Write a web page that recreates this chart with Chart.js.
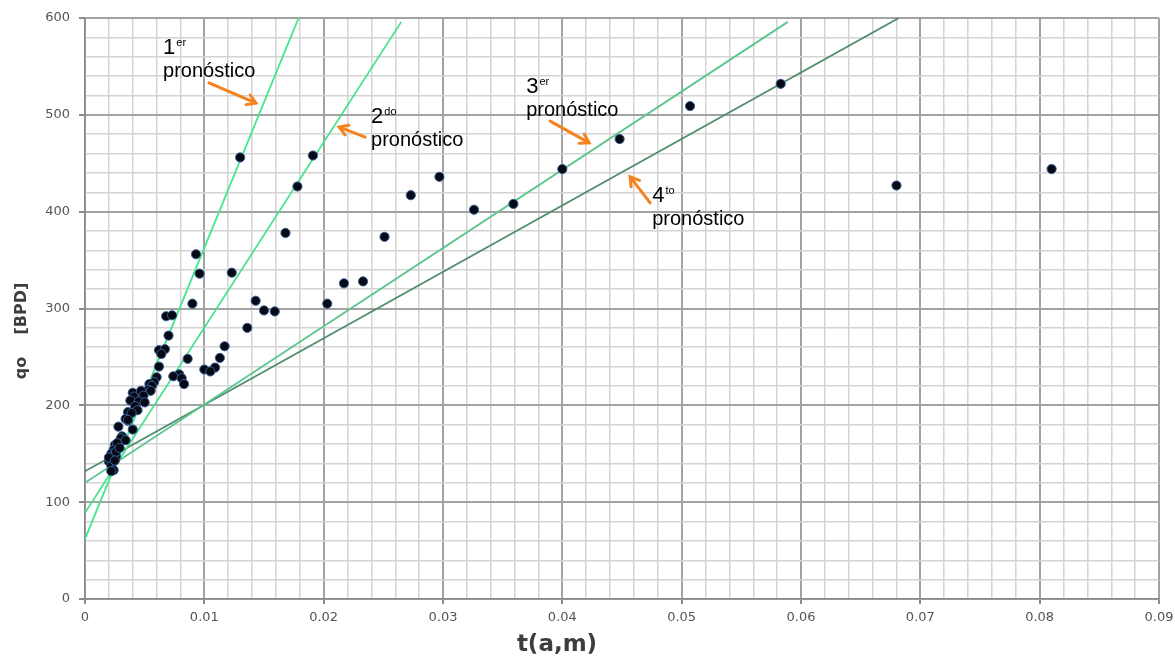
<!DOCTYPE html>
<html>
<head>
<meta charset="utf-8">
<script src="https://cdn.jsdelivr.net/npm/chart.js@4.4.0/dist/chart.umd.min.js"></script>
<style>
  html, body { margin: 0; padding: 0; background: #fff; }
  #wrap { width: 1175px; height: 658px; }
</style>
</head>
<body>
<div id="wrap"><canvas id="chart" width="1175" height="658"></canvas></div>
<script>
// Measured production points: t (a,m) vs qo [BPD]
const tValues = [
  0.0130, 0.0191, 0.0178, 0.0168, 0.0251, 0.0273, 0.0297, 0.0326, 0.0359, 0.0400,
  0.0448, 0.0507, 0.0583, 0.0680, 0.0810, 0.0203, 0.0217, 0.0233, 0.0143, 0.0150,
  0.0159, 0.0136, 0.0123, 0.0093, 0.0096, 0.0090, 0.0068, 0.0073, 0.0070, 0.0117,
  0.0113, 0.0086, 0.0109, 0.0100, 0.0105, 0.0062, 0.0067, 0.0064, 0.0062, 0.0079,
  0.0074, 0.0081, 0.0083, 0.0060, 0.0058, 0.0054, 0.0056, 0.0053, 0.0055, 0.0040,
  0.0047, 0.0049, 0.0041, 0.0038, 0.0045, 0.0050, 0.0042, 0.0044, 0.0036, 0.0039,
  0.0034, 0.0036, 0.0040, 0.0028, 0.0031, 0.0032, 0.0028, 0.0025, 0.0024, 0.0022,
  0.0026, 0.0021, 0.0020, 0.0022, 0.0024, 0.0030, 0.0027, 0.0023, 0.0026, 0.0029,
  0.0020, 0.0025, 0.0034, 0.0036, 0.0022
];
const qoValues = [
  456, 458, 426, 378, 374, 417, 436, 402, 408, 444,
  475, 509, 532, 427, 444, 305, 326, 328, 308, 298,
  297, 280, 337, 356, 336, 305, 292, 293, 272, 261,
  249, 248, 239, 237, 235, 257, 258, 253, 240, 232,
  230, 228, 222, 229, 224, 222, 220, 216, 215, 213,
  215, 210, 209, 205, 204, 203, 199, 195, 193, 192,
  186, 184, 175, 178, 168, 164, 161, 159, 154, 150,
  147, 145, 142, 138, 133, 166, 161, 148, 152, 156,
  146, 143, 164, 185, 132
];

// Forecast lines (start / end points)
const lineT0 = [0, 0, 0, 0];
const lineQ0 = [62, 89, 120, 132];
const lineT1 = [0.0179, 0.0265, 0.0589, 0.0682];
const lineQ1 = [600, 596, 596, 600];
const lineColors = ['#3fe88a', '#43e38a', '#5cc58d', '#4f8d6b'];

// Annotations
const labelNum = ['1', '2', '3', '4'];
const labelSup = ['er', 'do', 'er', 'to'];
const labelWord = 'pronóstico';
const labelT = [0.00654, 0.02397, 0.03697, 0.04753];
const labelQ = [563, 491.5, 522.5, 410];
const arrowT0 = [0.01039, 0.02347, 0.03898, 0.04736];
const arrowQ0 = [533, 477, 493.5, 409];
const arrowT1 = [0.01433, 0.02129, 0.04225, 0.04568];
const arrowQ1 = [512, 487.5, 471, 436];

// Axis tick labels
const xTickLabels = ['0', '0.01', '0.02', '0.03', '0.04', '0.05', '0.06', '0.07', '0.08', '0.09'];
const yTickLabels = ['0', '100', '200', '300', '400', '500', '600'];

const xTitle = 't(a,m)';
const yTitle = 'qo    [BPD]';

function isMajor(v, step) {
  const k = Math.round(v / step);
  return Math.abs(v - k * step) < step * 1e-6;
}

const datasets = [{
  label: 'qo',
  data: tValues.map((t, i) => ({ x: t, y: qoValues[i] })),
  showLine: false,
  pointRadius: 4.6,
  pointBackgroundColor: '#060a14',
  pointBorderColor: '#3a5d94',
  pointBorderWidth: 1
}];
for (let i = 0; i < lineT0.length; i++) {
  datasets.push({
    label: labelNum[i] + labelSup[i] + ' ' + labelWord,
    data: [{ x: lineT0[i], y: lineQ0[i] }, { x: lineT1[i], y: lineQ1[i] }],
    showLine: true,
    borderColor: lineColors[i],
    borderWidth: 1.8,
    pointRadius: 0
  });
}

// annotations + axis titles
const annotations = {
  id: 'annotations',
  afterDatasetsDraw(chart) {
    const { ctx, scales: { x, y } } = chart;
    ctx.save();
    // orange arrows
    ctx.strokeStyle = '#f5821f';
    ctx.lineWidth = 3;
    ctx.lineCap = 'round';
    for (let i = 0; i < arrowT0.length; i++) {
      const x0 = x.getPixelForValue(arrowT0[i]), y0 = y.getPixelForValue(arrowQ0[i]);
      const x1 = x.getPixelForValue(arrowT1[i]), y1 = y.getPixelForValue(arrowQ1[i]);
      const a = Math.atan2(y1 - y0, x1 - x0);
      const h = 10;
      ctx.beginPath();
      ctx.moveTo(x0, y0);
      ctx.lineTo(x1, y1);
      ctx.moveTo(x1 - h * Math.cos(a - 0.55), y1 - h * Math.sin(a - 0.55));
      ctx.lineTo(x1, y1);
      ctx.lineTo(x1 - h * Math.cos(a + 0.55), y1 - h * Math.sin(a + 0.55));
      ctx.stroke();
    }
    // labels
    ctx.fillStyle = '#000';
    ctx.textBaseline = 'alphabetic';
    ctx.textAlign = 'left';
    for (let i = 0; i < labelNum.length; i++) {
      const px = x.getPixelForValue(labelT[i]);
      const py = y.getPixelForValue(labelQ[i]);
      ctx.font = '22px "Liberation Sans", Arial, sans-serif';
      ctx.fillText(labelNum[i], px, py);
      const w = ctx.measureText(labelNum[i]).width;
      ctx.font = '11px "Liberation Sans", Arial, sans-serif';
      ctx.fillText(labelSup[i], px + w + 1, py - 8);
      ctx.font = '20px "Liberation Sans", Arial, sans-serif';
      ctx.fillText(labelWord, px, py + 23);
    }
    // axis titles
    ctx.fillStyle = '#3d3d3d';
    ctx.textAlign = 'center';
    ctx.font = 'bold 23px "DejaVu Sans", sans-serif';
    ctx.fillText(xTitle, 557, 651);
    ctx.translate(26, 331);
    ctx.rotate(-Math.PI / 2);
    ctx.font = 'bold 16px "DejaVu Sans", sans-serif';
    ctx.fillText(yTitle, 0, 0);
    ctx.restore();
  }
};

new Chart(document.getElementById('chart'), {
  type: 'scatter',
  data: { datasets },
  options: {
    responsive: false,
    animation: false,
    layout: { padding: { top: 18, right: 16, left: 0, bottom: 0 } },
    plugins: { legend: { display: false }, tooltip: { enabled: false } },
    scales: {
      x: {
        type: 'linear',
        min: 0,
        max: 0.09,
        afterFit: s => { s.height = 59; s.paddingRight = 0; s.paddingLeft = 0; },
        ticks: {
          stepSize: 0.002,
          maxTicksLimit: 100,
          autoSkip: false,
          maxRotation: 0,
          padding: 6,
          color: '#555555',
          font: { family: '"DejaVu Sans", sans-serif', size: 13 },
          callback: v => isMajor(v, 0.01) ? xTickLabels[Math.round(v / 0.01)] : ''
        },
        grid: {
          color: c => isMajor(c.tick.value, 0.01) ? '#a2a2a2' : '#d3d3d3',
          lineWidth: c => isMajor(c.tick.value, 0.01) ? 2 : 1.5,
          tickColor: c => isMajor(c.tick.value, 0.01) ? '#8a8a8a' : 'rgba(0,0,0,0)',
          tickLength: 5
        },
        border: { color: '#8a8a8a', width: 1.5 }
      },
      y: {
        type: 'linear',
        min: 0,
        max: 600,
        afterFit: s => { s.width = 85; s.paddingTop = 0; s.paddingBottom = 0; },
        ticks: {
          stepSize: 20,
          maxTicksLimit: 100,
          autoSkip: false,
          padding: 9,
          color: '#555555',
          font: { family: '"DejaVu Sans", sans-serif', size: 13 },
          callback: v => isMajor(v, 100) ? yTickLabels[Math.round(v / 100)] : ''
        },
        grid: {
          color: c => isMajor(c.tick.value, 100) ? '#a2a2a2' : '#d3d3d3',
          lineWidth: c => isMajor(c.tick.value, 100) ? 2 : 1.5,
          tickColor: c => isMajor(c.tick.value, 100) ? '#8a8a8a' : 'rgba(0,0,0,0)',
          tickLength: 6
        },
        border: { color: '#8a8a8a', width: 1.5 }
      }
    }
  },
  plugins: [annotations]
});
</script>
</body>
</html>
